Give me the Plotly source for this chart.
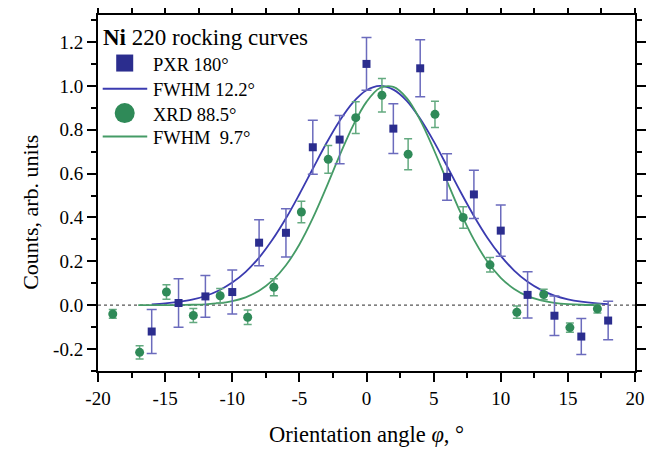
import plotly.graph_objects as go

# PXR 180° data (blue squares)
pxr_x = [-16, -14, -12, -10, -8, -6, -4, -2, 0, 2, 4, 6, 8, 10, 12, 14, 16, 18]
pxr_y = [-0.12, 0.01, 0.04, 0.06, 0.285, 0.33, 0.72, 0.755, 1.10, 0.805, 1.08, 0.585, 0.505, 0.34, 0.047, -0.048, -0.143, -0.07]
pxr_err = [0.10, 0.11, 0.095, 0.10, 0.105, 0.11, 0.123, 0.11, 0.12, 0.113, 0.13, 0.106, 0.11, 0.117, 0.105, 0.09, 0.082, 0.088]

# XRD 88.5° data (green circles)
xrd_x = [-18.9, -16.9, -14.9, -12.9, -10.9, -8.85, -6.9, -4.85, -2.85, -0.8, 1.15, 3.1, 5.1, 7.2, 9.2, 11.2, 13.2, 15.15, 17.2]
xrd_y = [-0.04, -0.215, 0.06, -0.047, 0.043, -0.055, 0.082, 0.425, 0.665, 0.855, 0.957, 0.688, 0.87, 0.40, 0.184, -0.032, 0.049, -0.102, -0.016]
xrd_err = [0.02, 0.03, 0.033, 0.032, 0.033, 0.033, 0.039, 0.049, 0.063, 0.072, 0.076, 0.071, 0.06, 0.049, 0.033, 0.028, 0.024, 0.021, 0.02]

# Fit curves
fit_pxr_x = list(range(-16, 19))
fit_pxr_y = [0.004, 0.008, 0.015, 0.025, 0.042, 0.067, 0.103, 0.152, 0.217, 0.299, 0.396, 0.506, 0.622, 0.737, 0.841, 0.925, 0.980, 1.000, 0.983, 0.932, 0.850, 0.748, 0.634, 0.517, 0.407, 0.308, 0.225, 0.158, 0.107, 0.070, 0.044, 0.027, 0.016, 0.009, 0.005]
fit_xrd_x = list(range(-17, 18))
fit_xrd_y = [0.0, 0.0001, 0.0003, 0.0008, 0.002, 0.004, 0.009, 0.019, 0.036, 0.066, 0.113, 0.182, 0.277, 0.397, 0.536, 0.683, 0.819, 0.927, 0.990, 0.995, 0.944, 0.844, 0.711, 0.565, 0.423, 0.299, 0.199, 0.125, 0.074, 0.041, 0.022, 0.011, 0.005, 0.002, 0.001]

x_tickvals = [-20, -15, -10, -5, 0, 5, 10, 15, 20]
x_ticktext = ["-20", "-15", "-10", "-5", "0", "5", "10", "15", "20"]
y_tickvals = [-0.2, 0.0, 0.2, 0.4, 0.6, 0.8, 1.0, 1.2]
y_ticktext = ["-0.2", "0.0", "0.2", "0.4", "0.6", "0.8", "1.0", "1.2"]

legend_title = "<b>Ni</b> 220 rocking curves"
names = ["PXR 180°", "FWHM 12.2°", "XRD 88.5°", "FWHM  9.7°"]
x_title = "Orientation angle <i>φ</i>, °"
y_title = "Counts, arb. units"

BLUE = "#2b2d8e"
BLUE_ERR = "#6b6bbd"
BLUE_LINE = "#3b3bb0"
GREEN = "#2f8a58"
GREEN_ERR = "#64aa80"
GREEN_LINE = "#459b66"
FONT = "Liberation Serif"

# the page body has an 8px margin, so the figure is drawn 8px in and down
OFF = 8
W, H = 655 - OFF, 450 - OFF
PL, PR, PT, PB = 98.3, 635, 15, 370.7          # plot area in page pixels
ML, MR, MT, MB = PL - OFF, W - (PR - OFF), PT - OFF, H - (PB - OFF)
PW, PH = W - ML - MR, H - MT - MB


def px(xp):
    return (xp - PL) / PW


def py(yp):
    return (PB - yp) / PH


fig = go.Figure()

# fit lines
fig.add_trace(go.Scatter(x=fit_pxr_x, y=fit_pxr_y, mode="lines", name=names[1],
                         line=dict(color=BLUE_LINE, width=1.8, shape="spline"), showlegend=False, hoverinfo="skip"))
fig.add_trace(go.Scatter(x=fit_xrd_x, y=fit_xrd_y, mode="lines", name=names[3],
                         line=dict(color=GREEN_LINE, width=1.8, shape="spline"), showlegend=False, hoverinfo="skip"))

# data
fig.add_trace(go.Scatter(x=pxr_x, y=pxr_y, mode="markers", name=names[0],
                         marker=dict(symbol="square", size=8, color=BLUE),
                         error_y=dict(type="data", array=pxr_err, color=BLUE_ERR, thickness=1.5, width=5),
                         showlegend=False))
fig.add_trace(go.Scatter(x=xrd_x, y=xrd_y, mode="markers", name=names[2],
                         marker=dict(symbol="circle", size=9, color=GREEN),
                         error_y=dict(type="data", array=xrd_err, color=GREEN_ERR, thickness=1.5, width=4),
                         showlegend=False))

fig.add_shape(type="line", xref="paper", yref="y", x0=0, x1=1, y0=0, y1=0,
              line=dict(color="#555555", width=1.2, dash="dot"), layer="below")

# legend (drawn manually to match the reference spacing)
rows_y = [63, 88.7, 113, 136.3]
sym_cx, line_x0, line_x1, text_x = 125, 103, 147.5, 151.5
fig.add_annotation(xref="paper", yref="paper", x=px(101), y=py(37), xanchor="left", yanchor="middle",
                   text=legend_title, showarrow=False, font=dict(family=FONT, size=23, color="black"))
fig.add_shape(type="rect", xref="paper", yref="paper", x0=px(sym_cx - 8.5), x1=px(sym_cx + 8.5),
              y0=py(rows_y[0] - 8.5), y1=py(rows_y[0] + 8.5), fillcolor=BLUE, line=dict(width=0))
fig.add_shape(type="line", xref="paper", yref="paper", x0=px(line_x0), x1=px(line_x1),
              y0=py(rows_y[1]), y1=py(rows_y[1]), line=dict(color=BLUE_LINE, width=2))
fig.add_shape(type="circle", xref="paper", yref="paper", x0=px(sym_cx - 10), x1=px(sym_cx + 10),
              y0=py(rows_y[2] - 10), y1=py(rows_y[2] + 10), fillcolor=GREEN, line=dict(width=0))
fig.add_shape(type="line", xref="paper", yref="paper", x0=px(line_x0), x1=px(line_x1),
              y0=py(rows_y[3]), y1=py(rows_y[3]), line=dict(color=GREEN_LINE, width=2))
for ry, nm in zip(rows_y, names):
    fig.add_annotation(xref="paper", yref="paper", x=px(text_x), y=py(ry + 1.5), xanchor="left", yanchor="middle",
                       text=nm.replace("  ", "&nbsp; "), showarrow=False, font=dict(family=FONT, size=18.5, color="black"))

# y-axis title (offset downward as in the reference)
fig.add_annotation(xref="paper", yref="paper", x=px(31), y=py(212), xanchor="center", yanchor="middle",
                   text=y_title, textangle=-90, showarrow=False, font=dict(family=FONT, size=22, color="black"))

axis_common = dict(showline=True, linecolor="black", linewidth=2, mirror="ticks",
                   ticks="outside", ticklen=9, tickwidth=1.5, tickcolor="black",
                   showgrid=False, zeroline=False, automargin=False,
                   tickfont=dict(family=FONT, size=19, color="black"))

fig.update_xaxes(range=[-20, 20], tickmode="array", tickvals=x_tickvals, ticktext=x_ticktext,
                 minor=dict(tickmode="linear", tick0=0, dtick=2.5, ticks="outside", ticklen=5, tickwidth=1.5, tickcolor="black"),
                 title=dict(text=x_title, font=dict(family=FONT, size=22.5, color="black"), standoff=18),
                 **axis_common)
fig.update_yaxes(range=[-0.3, 1.323], tickmode="array", tickvals=y_tickvals, ticktext=y_ticktext,
                 minor=dict(tickmode="linear", tick0=0, dtick=0.1, ticks="outside", ticklen=5, tickwidth=1.5, tickcolor="black"),
                 **axis_common)

fig.update_layout(
    width=W, height=H,
    margin=dict(l=ML, r=MR, t=MT, b=MB),
    paper_bgcolor="white", plot_bgcolor="white",
    font=dict(family=FONT, color="black"),
    showlegend=False,
)

fig.write_html("out.html")
